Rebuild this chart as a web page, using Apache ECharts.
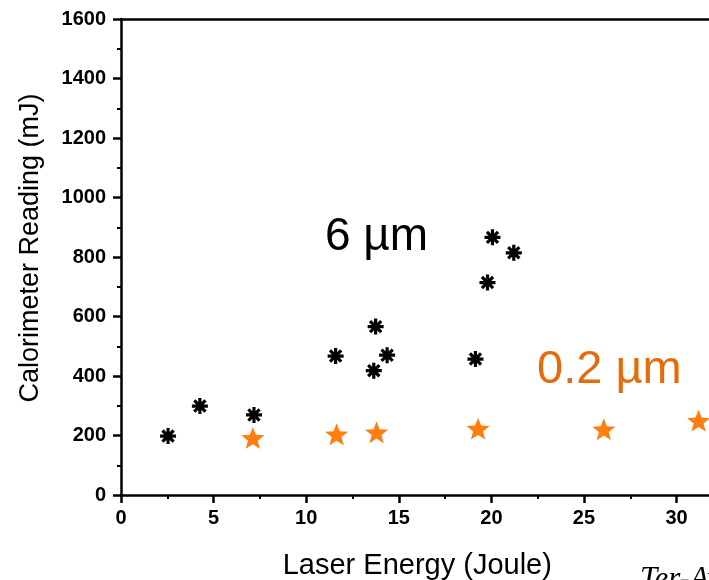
<!DOCTYPE html>
<html>
<head>
<meta charset="utf-8">
<script src="https://cdn.jsdelivr.net/npm/echarts@6/dist/echarts.min.js"></script>
<style>html,body{margin:0;padding:0;background:#fff;}#chart{width:709px;height:580px;}</style>
</head>
<body>
<div id="chart"></div>
<script>
// Data
var energy6um = [2.54, 4.26, 7.18, 11.59, 13.75, 13.65, 14.37, 19.14, 19.79, 20.06, 21.21];
var reading6um = [198, 299, 269, 467, 566, 418, 470, 457, 714, 866, 814];
var energy02um = [7.12, 11.64, 13.80, 19.28, 26.07, 31.19];
var reading02um = [192, 204, 211, 223, 221, 250];
var xTicks = [0, 5, 10, 15, 20, 25, 30];
var yTicks = [0, 200, 400, 600, 800, 1000, 1200, 1400, 1600];

function pairs(xs, ys) { return xs.map(function (x, i) { return [x, ys[i]]; }); }

// star symbol path
function starPath() {
  var pts = [];
  for (var i = 0; i < 10; i++) {
    var a = -Math.PI / 2 + i * Math.PI / 5;
    var r = (i % 2 === 0) ? 10 : 4.3;
    pts.push((10 + r * Math.cos(a)).toFixed(2) + ',' + (10 + r * Math.sin(a)).toFixed(2));
  }
  return 'path://M' + pts.join('L') + 'Z';
}
var asteriskPath = 'path://M8,0L8,16M0,8L16,8M2.4,2.4L13.6,13.6M2.4,13.6L13.6,2.4';

var chart = echarts.init(document.getElementById('chart'), null, {renderer: 'canvas'});
var tickFont = {fontFamily: 'Liberation Sans, Arial', fontWeight: 'bold', fontSize: 20, color: '#000'};
var option = {
  animation: false,
  backgroundColor: '#fff',
  grid: {left: 121, top: 19, width: 592.6, height: 476, containLabel: false, outerBoundsMode: 'none'},
  xAxis: [{
    type: 'value', min: xTicks[0], max: 32, interval: 5, position: 'bottom',
    name: 'Laser Energy (Joule)', nameLocation: 'middle', nameGap: 56,
    nameTextStyle: {fontFamily: 'Liberation Sans, Arial', fontSize: 29, color: '#000'},
    axisLine: {show: true, onZero: false, lineStyle: {color: '#000', width: 2.5}},
    axisTick: {show: true, inside: false, length: 8, lineStyle: {color: '#000', width: 2.5}},
    minorTick: {show: true, splitNumber: 2, length: 4, lineStyle: {color: '#000', width: 2}},
    axisLabel: Object.assign({margin: 13, showMaxLabel: false, formatter: function (v) { return String(v); }}, tickFont),
    splitLine: {show: false}
  }, {
    type: 'value', min: xTicks[0], max: 32, position: 'top',
    axisLine: {show: true, onZero: false, lineStyle: {color: '#000', width: 2.5}},
    axisTick: {show: false}, axisLabel: {show: false}, splitLine: {show: false}
  }],
  yAxis: {
    type: 'value', min: yTicks[0], max: yTicks[yTicks.length - 1], interval: 200,
    name: 'Calorimeter Reading (mJ)', nameLocation: 'middle', nameGap: 77, nameRotate: 90,
    nameTextStyle: {fontFamily: 'Liberation Sans, Arial', fontSize: 27, color: '#000', padding: [0, 0, 0, 18]},
    axisLine: {show: true, onZero: false, lineStyle: {color: '#000', width: 2.5}},
    axisTick: {show: true, inside: false, length: 8, lineStyle: {color: '#000', width: 2.5}},
    minorTick: {show: true, splitNumber: 2, length: 4, lineStyle: {color: '#000', width: 2}},
    axisLabel: Object.assign({margin: 15, formatter: function (v) { return String(v); }}, tickFont),
    splitLine: {show: false}
  },
  series: [{
    name: '6 µm', type: 'scatter', data: pairs(energy6um, reading6um),
    symbol: asteriskPath, symbolSize: 16, symbolKeepAspect: true,
    itemStyle: {color: 'rgba(0,0,0,0)', borderColor: '#000', borderWidth: 3.2, opacity: 1}
  }, {
    name: '0.2 µm', type: 'scatter', data: pairs(energy02um, reading02um),
    symbol: starPath(), symbolSize: 23, symbolKeepAspect: true,
    itemStyle: {color: '#ff7f0e', opacity: 1}
  }],
  graphic: [
    {type: 'text', left: 325, top: 214, style: {text: '6 µm', fontFamily: 'Liberation Sans, Arial', fontSize: 46, fill: '#000'}},
    {type: 'text', left: 537, top: 347, style: {text: '0.2 µm', fontFamily: 'Liberation Sans, Arial', fontSize: 47, fill: '#e46c0a'}},
    {type: 'text', left: 640, top: 564, style: {text: 'Ter-Avetisyan', fontFamily: 'Liberation Serif, Times New Roman', fontStyle: 'italic', fontSize: 31, fill: '#000'}}
  ]
};
chart.setOption(option);
</script>
</body>
</html>
